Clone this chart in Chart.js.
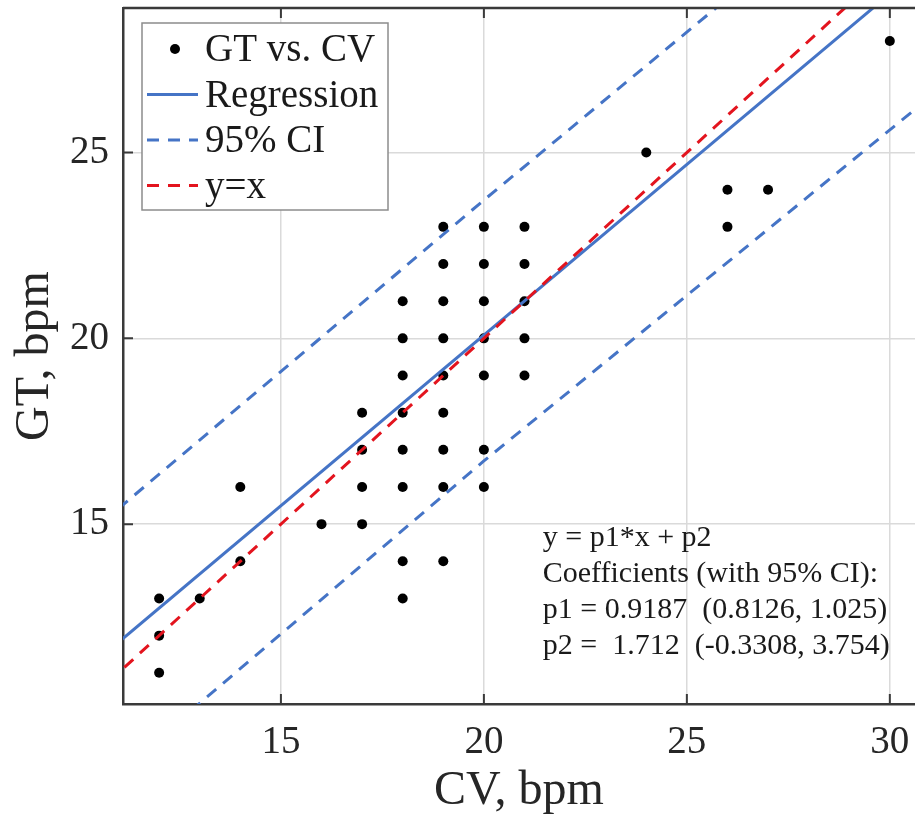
<!DOCTYPE html>
<html>
<head>
<meta charset="utf-8">
<script src="https://cdn.jsdelivr.net/npm/chart.js@4.4.1/dist/chart.umd.min.js"></script>
<style>
  html, body { margin: 0; padding: 0; background: #fff; }
</style>
</head>
<body>
<canvas id="fitChart" width="915" height="820"></canvas>
<script>
// heart rate, bpm: CV estimate vs ground truth
var cvVals = [12,12,12, 13, 14,14, 16, 17,17,17,17, 18,18,18,18,18,18,18,18,
              19,19,19,19,19,19,19,19,19, 20,20,20,20,20,20,20, 21,21,21,21,21,
              24, 26,26, 27, 30];
var gtVals = [13,12,11, 13, 16,14, 15, 18,17,16,15, 21,20,19,18,17,16,14,13,
              23,22,21,20,19,18,17,16,14, 23,22,21,20,19,17,16, 23,22,21,20,19,
              25, 24,23, 24, 28];

// fitted line and prediction bounds
var regX = [11, 31];
var regY = [11.82, 30.19];
var upperX = [11, 20, 26.5];
var upperY = [15.42, 23.72, 29.6];
var lowerX = [12, 20, 31];
var lowerY = [9.25, 16.7, 26.5];
var identX = [10, 31];
var identY = [10, 31];

var xTicks = [15, 20, 25, 30];
var yTicks = [15, 20, 25];

var fitLines = [
  'y = p1*x + p2',
  'Coefficients (with 95% CI):',
  'p1 = 0.9187  (0.8126, 1.025)',
  'p2 =  1.712  (-0.3308, 3.754)'
];

var serif = "'Liberation Serif', 'Times New Roman', serif";
var blue = '#4574c6';
var red = '#e3141e';

function pts(xs, ys) {
	var out = [];
	for (var i = 0; i < xs.length; i++) out.push({x: xs[i], y: ys[i]});
	return out;
}

function noPad(s) {
	s.paddingTop = 0; s.paddingBottom = 0;
	s.paddingLeft = 0; s.paddingRight = 0;
}

// MATLAB style box: top edge + inward tick marks
var frameTicks = {
	id: 'frameTicks',
	afterDatasetsDraw(chart) {
		var ctx = chart.ctx, a = chart.chartArea;
		var xs = chart.scales.x, ys = chart.scales.y;
		ctx.save();
		ctx.strokeStyle = '#3a3a3a';
		ctx.lineWidth = 2.5;
		ctx.beginPath();
		ctx.moveTo(a.left, a.top);
		ctx.lineTo(a.right, a.top);
		ctx.stroke();
		ctx.lineWidth = 2;
		ctx.beginPath();
		xTicks.forEach(function(v) {
			var p = xs.getPixelForValue(v);
			ctx.moveTo(p, a.bottom); ctx.lineTo(p, a.bottom - 10);
			ctx.moveTo(p, a.top); ctx.lineTo(p, a.top + 10);
		});
		yTicks.forEach(function(v) {
			var p = ys.getPixelForValue(v);
			ctx.moveTo(a.left, p); ctx.lineTo(a.left + 10, p);
		});
		ctx.stroke();
		ctx.restore();
	}
};

var fitNote = {
	id: 'fitNote',
	afterDatasetsDraw(chart, args, opts) {
		var ctx = chart.ctx;
		var px = chart.scales.x.getPixelForValue(opts.x);
		var py = chart.scales.y.getPixelForValue(opts.y);
		ctx.save();
		ctx.font = opts.font;
		ctx.fillStyle = '#1a1a1a';
		ctx.textBaseline = 'alphabetic';
		fitLines.forEach(function(t, i) {
			ctx.fillText(t, px, py + i * opts.lineGap);
		});
		ctx.restore();
	}
};

var boxLegend = {
	id: 'boxLegend',
	afterDraw(chart, args, opts) {
		var ctx = chart.ctx, a = chart.chartArea;
		var items = chart.data.datasets.filter(function(d) { return !d.noLegend; });
		var x0 = a.left + opts.offsetX, y0 = a.top + opts.offsetY;
		ctx.save();
		ctx.fillStyle = '#fff';
		ctx.strokeStyle = '#8c8c8c';
		ctx.lineWidth = 1.5;
		ctx.fillRect(x0, y0, opts.width, opts.height);
		ctx.strokeRect(x0, y0, opts.width, opts.height);
		ctx.font = opts.font;
		ctx.textBaseline = 'middle';
		items.forEach(function(d, i) {
			var cy = y0 + opts.firstRow + i * opts.rowGap;
			if (d.showLine) {
				ctx.strokeStyle = d.borderColor;
				ctx.lineWidth = d.borderWidth;
				ctx.setLineDash(d.borderDash || []);
				ctx.beginPath();
				ctx.moveTo(x0 + 5, cy);
				ctx.lineTo(x0 + 56, cy);
				ctx.stroke();
				ctx.setLineDash([]);
			} else {
				ctx.fillStyle = d.backgroundColor;
				ctx.beginPath();
				ctx.arc(x0 + 33, cy, 5, 0, Math.PI * 2);
				ctx.fill();
			}
			ctx.fillStyle = '#1a1a1a';
			ctx.fillText(d.label, x0 + 63, cy + 2);
		});
		ctx.restore();
	}
};

var ctx = document.getElementById('fitChart');
var fitChart = new Chart(ctx, {
	type: 'scatter',
	data: {
		datasets: [{
			label: 'GT vs. CV',
			data: pts(cvVals, gtVals),
			backgroundColor: '#000',
			borderColor: '#000',
			pointRadius: 5,
			pointBorderWidth: 0,
			order: 4
		}, {
			label: 'Regression',
			data: pts(regX, regY),
			showLine: true,
			borderColor: blue,
			borderWidth: 3,
			pointRadius: 0,
			clip: 0,
			order: 3
		}, {
			label: '95% CI',
			data: pts(upperX, upperY),
			showLine: true,
			borderColor: blue,
			borderWidth: 3,
			borderDash: [12, 9],
			pointRadius: 0,
			clip: 0,
			order: 2
		}, {
			label: '95% CI lower',
			noLegend: true,
			data: pts(lowerX, lowerY),
			showLine: true,
			borderColor: blue,
			borderWidth: 3,
			borderDash: [12, 9],
			pointRadius: 0,
			clip: 0,
			order: 2
		}, {
			label: 'y=x',
			data: pts(identX, identY),
			showLine: true,
			borderColor: red,
			borderWidth: 3,
			borderDash: [12, 9],
			pointRadius: 0,
			clip: 0,
			order: 1
		}]
	},
	options: {
		responsive: false,
		animation: false,
		layout: { autoPadding: false, padding: { top: 8, right: 0, left: 0, bottom: 0 } },
		plugins: {
			legend: { display: false },
			tooltip: { enabled: false },
			fitNote: { x: 21.45, y: 14.42, lineGap: 36, font: '30px ' + serif },
			boxLegend: { offsetX: 19, offsetY: 15, width: 246, height: 187,
				firstRow: 26, rowGap: 45.5, font: '39px ' + serif }
		},
		scales: {
			x: {
				type: 'linear',
				min: 11.11,
				max: 30.62,
				afterBuildTicks: function(s) { s.ticks = xTicks.map(function(v) { return {value: v}; }); },
				afterFit: function(s) { s.height = 116; noPad(s); },
				grid: { color: '#dadada', lineWidth: 1.5, drawTicks: false },
				border: { color: '#3a3a3a', width: 2.5 },
				ticks: { color: '#262626', padding: 15, font: { family: serif, size: 39 } },
				title: { display: true, text: 'CV, bpm', color: '#262626',
					padding: { top: 0, bottom: 0 }, font: { family: serif, size: 48 } }
			},
			y: {
				type: 'linear',
				min: 10.16,
				max: 28.89,
				afterBuildTicks: function(s) { s.ticks = yTicks.map(function(v) { return {value: v}; }); },
				afterFit: function(s) { s.width = 123; noPad(s); },
				grid: { color: '#dadada', lineWidth: 1.5, drawTicks: false },
				border: { color: '#3a3a3a', width: 2.5 },
				ticks: { color: '#262626', padding: 14, font: { family: serif, size: 39 } },
				title: { display: true, text: 'GT, bpm', color: '#262626',
					padding: { top: 7, bottom: 0 }, font: { family: serif, size: 48 } }
			}
		}
	},
	plugins: [frameTicks, fitNote, boxLegend]
});
</script>
</body>
</html>
